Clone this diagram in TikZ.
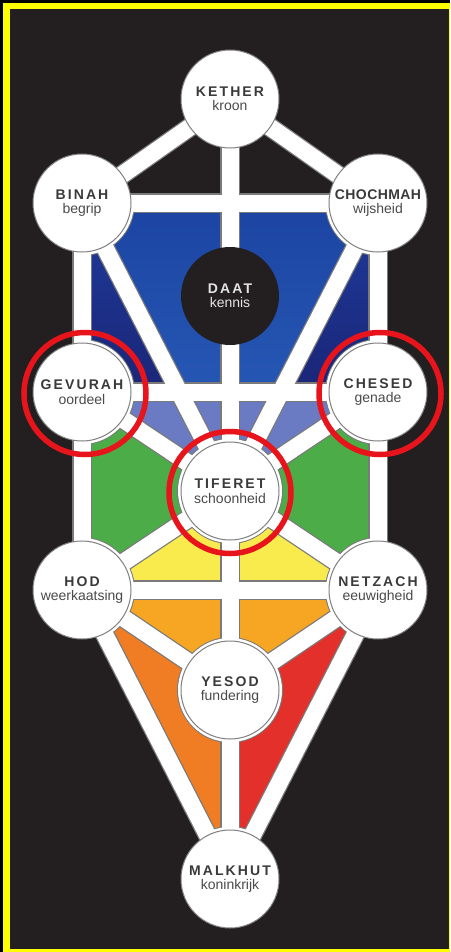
\documentclass[tikz,border=0pt]{standalone}
\usepackage{fontspec}
\setmainfont{Liberation Sans}
\newfontfamily\ttlfont[LetterSpace=15]{Liberation Sans}
\newfontfamily\ttlnarrow[LetterSpace=3]{Liberation Sans}
\definecolor{bgdark}{HTML}{231F20}
\definecolor{frameyellow}{HTML}{FFFF00}
\definecolor{bargrey}{HTML}{7A7A7A}
\definecolor{circgrey}{HTML}{7F7F7F}
\definecolor{titlegrey}{HTML}{3A3A3A}
\definecolor{subgrey}{HTML}{4A4A4A}
\definecolor{daattext}{HTML}{E4E4E4}
\definecolor{blueA}{HTML}{1C44A2}
\definecolor{blueB}{HTML}{2657B4}
\definecolor{navyA}{HTML}{1F3C9C}
\definecolor{navyB}{HTML}{1A2577}
\definecolor{periwinkle}{HTML}{6A7BC3}
\definecolor{panegreen}{HTML}{4CAC48}
\definecolor{paneyellow}{HTML}{F9EB4E}
\definecolor{paneorange}{HTML}{F6A623}
\definecolor{panedarkorange}{HTML}{F07D24}
\definecolor{panered}{HTML}{E3302B}
\definecolor{ringred}{HTML}{E8141C}
\newcommand\sefira[2]{{\ttlfont\bfseries\fontsize{14}{16}\selectfont #1}\\[2.5pt]{\color{subgrey}\fontsize{14}{16}\selectfont #2}}
\newcommand\sefiranarrow[2]{{\ttlnarrow\bfseries\fontsize{14}{16}\selectfont #1}\\[2.5pt]{\color{subgrey}\fontsize{14}{16}\selectfont #2}}
\begin{document}
\begin{tikzpicture}[x=1pt,y=-1pt,
  barout/.style={line width=19.5pt, draw=bargrey},
  barin/.style={line width=17pt, draw=white},
  sephira/.style={circle, draw=circgrey, line width=1pt, fill=white, minimum size=98pt, inner sep=0pt, align=center, text=titlegrey},
  daatstyle/.style={circle, fill=bgdark, minimum size=98pt, inner sep=0pt, align=center, text=daattext},
  redring/.style={circle, draw=ringred, line width=5.5pt, minimum size=122pt, inner sep=0pt},
]
\useasboundingbox (0,0) rectangle (450,952);
% frame
\fill[black] (0,0) rectangle (450,952);
\fill[frameyellow] (3,3) rectangle (450,952);
\fill[bgdark] (10,9.5) rectangle (448.5,949);
% centres
\coordinate (K) at (230,99);
\coordinate (B) at (82,203);
\coordinate (C) at (378,203);
\coordinate (D) at (230,296);
\coordinate (G) at (82,392);
\coordinate (Ch) at (378,392);
\coordinate (T) at (230,491);
\coordinate (H) at (82,590);
\coordinate (N) at (378,590);
\coordinate (Y) at (230,690);
\coordinate (M) at (230,879);
% coloured panes
\shade[top color=blueA, bottom color=blueB] (B) -- (C) -- (Ch) -- (G) -- cycle;
\shade[top color=navyA, bottom color=navyB] (B) -- (179,392) -- (G) -- cycle;
\shade[top color=navyA, bottom color=navyB] (C) -- (281,392) -- (Ch) -- cycle;
\fill[periwinkle] (G) -- (Ch) -- (T) -- cycle;
\fill[panegreen] (G) -- (T) -- (H) -- cycle;
\fill[panegreen] (Ch) -- (T) -- (N) -- cycle;
\fill[paneyellow] (H) -- (T) -- (N) -- cycle;
\fill[paneorange] (H) -- (N) -- (Y) -- cycle;
\fill[panedarkorange] (H) -- (Y) -- (M) -- cycle;
\fill[panered] (N) -- (Y) -- (M) -- cycle;
% halo outline
\begin{scope}
\clip (B) -- (C) -- (N) -- (M) -- (H) -- cycle;
\foreach \p in {B,C,G,Ch,T,H,N,Y,M} \fill[bargrey] (\p) circle (53pt);
\end{scope}
% paths, outlines
\foreach \a/\b in {K/B,K/C,B/C,K/D,D/T,T/Y,Y/M,B/G,C/Ch,B/T,C/T,G/Ch,G/T,Ch/T,G/H,Ch/N,T/H,T/N,H/N,H/Y,N/Y,H/M,N/M}
  \draw[barout] (\a) -- (\b);
% halo white
\begin{scope}
\clip (B) -- (C) -- (N) -- (M) -- (H) -- cycle;
\foreach \p in {B,C,G,Ch,T,H,N,Y,M} \fill[white] (\p) circle (52pt);
\end{scope}
% paths, white
\foreach \a/\b in {K/B,K/C,B/C,K/D,D/T,T/Y,Y/M,B/G,C/Ch,B/T,C/T,G/Ch,G/T,Ch/T,G/H,Ch/N,T/H,T/N,H/N,H/Y,N/Y,H/M,N/M}
  \draw[barin] (\a) -- (\b);
% sephirot
\node[sephira] (Kc) at (K) {\sefira{KETHER}{kroon}};
\node[sephira] (Bc) at (B) {\sefira{BINAH}{begrip}};
\node[sephira] (Cc) at (C) {\sefiranarrow{CHOCHMAH}{wijsheid}};
\node[daatstyle] (Dc) at (D) {{\ttlfont\bfseries\fontsize{14}{16}\selectfont DAAT}\\[2.5pt]{\fontsize{14}{16}\selectfont kennis}};
\node[sephira] (Gc) at (G) {\sefira{GEVURAH}{oordeel}};
\node[sephira] (Chc) at (Ch) {\sefira{CHESED}{genade}};
\node[sephira] (Tc) at (T) {\sefira{TIFERET}{schoonheid}};
\node[sephira] (Hc) at (H) {\sefira{HOD}{weerkaatsing}};
\node[sephira] (Nc) at (N) {\sefira{NETZACH}{eeuwigheid}};
\node[sephira] (Yc) at (Y) {\sefira{YESOD}{fundering}};
\node[sephira] (Mc) at (M) {\sefira{MALKHUT}{koninkrijk}};
% red highlight rings
\node[redring] (rG) at ([shift={(3,1.5)}]G) {};
\node[redring] (rCh) at ([shift={(2,1.5)}]Ch) {};
\node[redring] (rT) at ([shift={(0,1.5)}]T) {};
\end{tikzpicture}
\end{document}
